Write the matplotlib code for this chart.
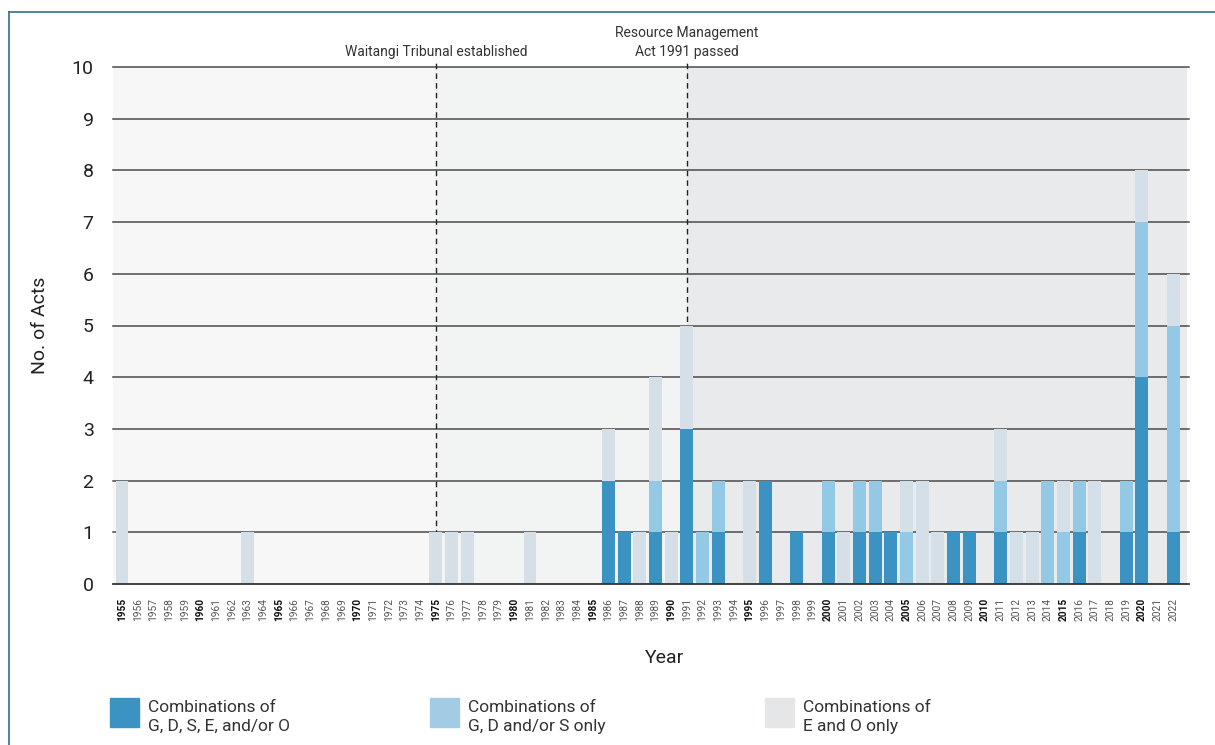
import matplotlib
matplotlib.use('Agg')
import matplotlib.pyplot as plt
import numpy as np
from matplotlib.lines import Line2D
from matplotlib.patches import Rectangle
import matplotlib.transforms as mtransforms

plt.rcParams['font.family'] = ['Roboto', 'DejaVu Sans']

years = list(range(1955, 2023))

# acts per year, 1955..2022
gdseo = ([0, 0, 0, 0, 0]
         + [0, 0, 0, 0, 0, 0, 0, 0, 0, 0]
         + [0, 0, 0, 0, 0, 0, 0, 0, 0, 0]
         + [0, 0, 0, 0, 0, 0, 2, 1, 0, 1]
         + [0, 3, 0, 1, 0, 0, 2, 0, 1, 0]
         + [1, 0, 1, 1, 1, 0, 0, 0, 1, 1]
         + [0, 1, 0, 0, 0, 0, 1, 0, 0, 1]
         + [4, 0, 1])
gds_only = ([0, 0, 0, 0, 0]
            + [0, 0, 0, 0, 0, 0, 0, 0, 0, 0]
            + [0, 0, 0, 0, 0, 0, 0, 0, 0, 0]
            + [0, 0, 0, 0, 0, 0, 0, 0, 0, 1]
            + [0, 0, 1, 1, 0, 0, 0, 0, 0, 0]
            + [1, 0, 1, 1, 0, 1, 0, 0, 0, 0]
            + [0, 1, 0, 0, 2, 1, 1, 0, 0, 1]
            + [3, 0, 4])
eo_only = ([2, 0, 0, 0, 0]
           + [0, 0, 0, 1, 0, 0, 0, 0, 0, 0]
           + [0, 0, 0, 0, 0, 1, 1, 1, 0, 0]
           + [0, 1, 0, 0, 0, 0, 1, 0, 1, 2]
           + [1, 2, 0, 0, 0, 2, 0, 0, 0, 0]
           + [0, 1, 0, 0, 0, 1, 2, 1, 0, 0]
           + [0, 1, 1, 1, 0, 1, 0, 2, 0, 0]
           + [1, 0, 1])

events = [(1975, 'Waitangi Tribunal established'),
          (1991, 'Resource Management\nAct 1991 passed')]

legend_labels = ['Combinations of\nG, D, S, E, and/or O',
                 'Combinations of\nG, D and/or S only',
                 'Combinations of\nE and O only']

DARK, LIGHT, PALE = '#3a93c3', '#93c9e4', '#d5dfe7'
LEG_COLORS = ['#3a93c3', '#a2cce4', '#e5e6e8']

fig = plt.figure(figsize=(12.15, 7.45), dpi=100)
ax = fig.add_axes([113 / 1215, 1 - 584 / 745, (1189 - 113) / 1215, (584 - 67) / 745])

x = np.array(years)
a = np.array(gdseo)
b = np.array(gds_only)
c = np.array(eo_only)

# shaded eras
ax.axvspan(1954.4, 1975, color='#f7f7f7', zorder=0, lw=0)
ax.axvspan(1975, 1991, color='#f2f3f3', zorder=0, lw=0)
ax.axvspan(1991, 2022.85, color='#e9eaeb', zorder=0, lw=0)

for yv in range(1, 11):
    ax.axhline(yv, color='#4a4a4a', lw=1.1, zorder=1, clip_on=False)
ax.axhline(0, color='#333333', lw=1.3, zorder=4, clip_on=False)

trans = mtransforms.blended_transform_factory(ax.transData, ax.transAxes)
for yr, txt in events:
    ax.plot([yr, yr], [0, 1.01], color='#222222', lw=1, ls=(0, (4, 3)),
            transform=trans, clip_on=False, zorder=1.5)
    ax.text(yr, 1.016, txt, transform=trans, ha='center', va='bottom',
            fontsize=10, color='#333333', linespacing=1.45)

w = 0.82
ax.bar(x, a, width=w, color=DARK, zorder=2, lw=0)
ax.bar(x, b, width=w, bottom=a, color=LIGHT, zorder=2, lw=0)
ax.bar(x, c, width=w, bottom=a + b, color=PALE, zorder=2, lw=0)

ax.set_xlim(1954.43, 2023.0)
ax.set_ylim(0, 10)
ax.set_yticks(range(0, 11))
ax.set_xticks(years)
ax.set_xticklabels([str(y) for y in years], rotation=90, fontsize=7.3, va='top')
for lab, y in zip(ax.get_xticklabels(), years):
    if y % 5 == 0:
        lab.set_fontweight('bold')
        lab.set_color('#111111')
    else:
        lab.set_color('#555555')
ax.tick_params(axis='x', length=0, pad=10)
ax.tick_params(axis='y', length=0, pad=14, labelsize=14, labelcolor='#222222')
for s in ax.spines.values():
    s.set_visible(False)
ax.set_facecolor('none')

ax.set_ylabel('No. of Acts', fontsize=14, color='#222222', labelpad=16)
fig.text(665 / 1215, 1 - 658 / 745, 'Year', ha='center', va='center', fontsize=14, color='#222222')

# legend
leg_x = [110, 430, 765]
for lx, col, lab in zip(leg_x, LEG_COLORS, legend_labels):
    fig.patches.append(Rectangle((lx / 1215, 1 - 727 / 745), 29 / 1215, 29 / 745,
                                 transform=fig.transFigure, color=col))
    fig.text((lx + 38) / 1215, 1 - 717 / 745, lab, ha='left', va='center',
             fontsize=12.5, color='#333333', linespacing=1.35)

# page frame
fig.add_artist(Line2D([9 / 1215, 1], [1 - 12 / 745] * 2, color='#2f6f8f', lw=1.2,
                      transform=fig.transFigure))
fig.add_artist(Line2D([9 / 1215] * 2, [0, 1 - 12 / 745], color='#2f6f8f', lw=1.2,
                      transform=fig.transFigure))

fig.savefig('out.png', dpi=100, facecolor='white')
